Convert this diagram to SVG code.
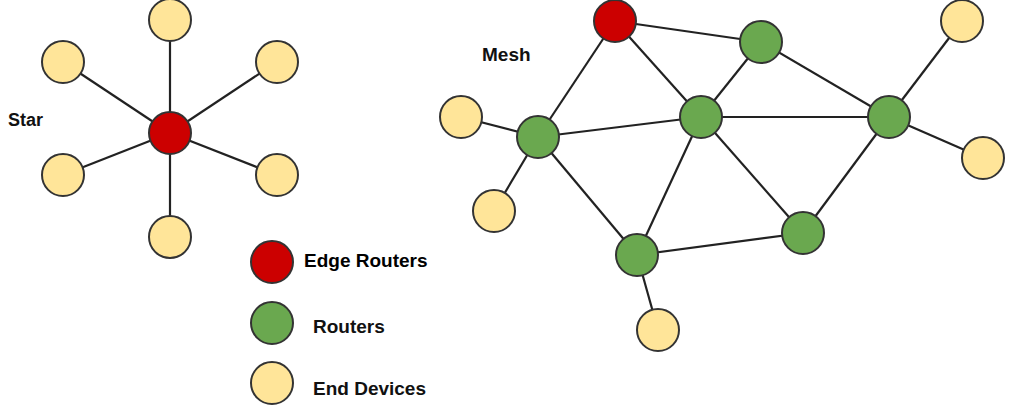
<svg xmlns="http://www.w3.org/2000/svg" width="1024" height="413" viewBox="0 0 1024 413">
<style>
.e{fill:#cc0000;stroke:#333;stroke-width:2}
.r{fill:#6aa84f;stroke:#333;stroke-width:2}
.d{fill:#ffe599;stroke:#333;stroke-width:2}
.c line{stroke:#222;stroke-width:2.2}
text{font-family:"Liberation Sans",Arial,sans-serif;font-weight:bold;font-size:19px;fill:#111}
</style>
<rect width="1024" height="413" fill="#fff"/>
<g id="connectors" class="c">
<line x1="170" y1="133" x2="170" y2="20"/>
<line x1="170" y1="133" x2="63" y2="62"/>
<line x1="170" y1="133" x2="277" y2="62"/>
<line x1="170" y1="133" x2="63" y2="175"/>
<line x1="170" y1="133" x2="277" y2="175"/>
<line x1="170" y1="133" x2="170" y2="237"/>
<line x1="615" y1="21" x2="538" y2="137"/>
<line x1="615" y1="21" x2="701" y2="117"/>
<line x1="615" y1="21" x2="761" y2="42"/>
<line x1="461" y1="117" x2="538" y2="137"/>
<line x1="494" y1="211" x2="538" y2="137"/>
<line x1="538" y1="137" x2="701" y2="117"/>
<line x1="538" y1="137" x2="637" y2="255"/>
<line x1="761" y1="42" x2="701" y2="117"/>
<line x1="761" y1="42" x2="889" y2="117"/>
<line x1="701" y1="117" x2="889" y2="117"/>
<line x1="701" y1="117" x2="637" y2="255"/>
<line x1="701" y1="117" x2="803" y2="233"/>
<line x1="889" y1="117" x2="803" y2="233"/>
<line x1="889" y1="117" x2="962" y2="21"/>
<line x1="889" y1="117" x2="983" y2="158"/>
<line x1="637" y1="255" x2="803" y2="233"/>
<line x1="637" y1="255" x2="658" y2="330"/>
</g>
<g id="star-label"><text x="8" y="126" style="font-size:18px">Star</text></g>
<g id="mesh-label"><text x="482" y="61">Mesh</text></g>
<g id="star-hub"><circle class="e" cx="170" cy="133" r="21"/></g>
<g id="star-d1"><circle class="d" cx="170" cy="20" r="21"/></g>
<g id="star-d2"><circle class="d" cx="63" cy="62" r="21"/></g>
<g id="star-d3"><circle class="d" cx="277" cy="62" r="21"/></g>
<g id="star-d4"><circle class="d" cx="63" cy="175" r="21"/></g>
<g id="star-d5"><circle class="d" cx="277" cy="175" r="21"/></g>
<g id="star-d6"><circle class="d" cx="170" cy="237" r="21"/></g>
<g id="mesh-edge"><circle class="e" cx="615" cy="21" r="21"/></g>
<g id="mesh-r1"><circle class="r" cx="538" cy="137" r="21"/></g>
<g id="mesh-r2"><circle class="r" cx="761" cy="42" r="21"/></g>
<g id="mesh-r3"><circle class="r" cx="701" cy="117" r="21"/></g>
<g id="mesh-r4"><circle class="r" cx="889" cy="117" r="21"/></g>
<g id="mesh-r5"><circle class="r" cx="637" cy="255" r="21"/></g>
<g id="mesh-r6"><circle class="r" cx="803" cy="233" r="21"/></g>
<g id="mesh-d1"><circle class="d" cx="461" cy="117" r="21"/></g>
<g id="mesh-d2"><circle class="d" cx="494" cy="211" r="21"/></g>
<g id="mesh-d3"><circle class="d" cx="962" cy="21" r="21"/></g>
<g id="mesh-d4"><circle class="d" cx="983" cy="158" r="21"/></g>
<g id="mesh-d5"><circle class="d" cx="658" cy="330" r="21"/></g>
<g id="legend-edge"><circle class="e" cx="272" cy="262" r="21"/><text x="304" y="267" style="fill:#000">Edge Routers</text></g>
<g id="legend-router"><circle class="r" cx="272" cy="323" r="21"/><text x="313" y="333">Routers</text></g>
<g id="legend-device"><circle class="d" cx="272" cy="383" r="21"/><text x="313" y="395">End Devices</text></g>
</svg>
